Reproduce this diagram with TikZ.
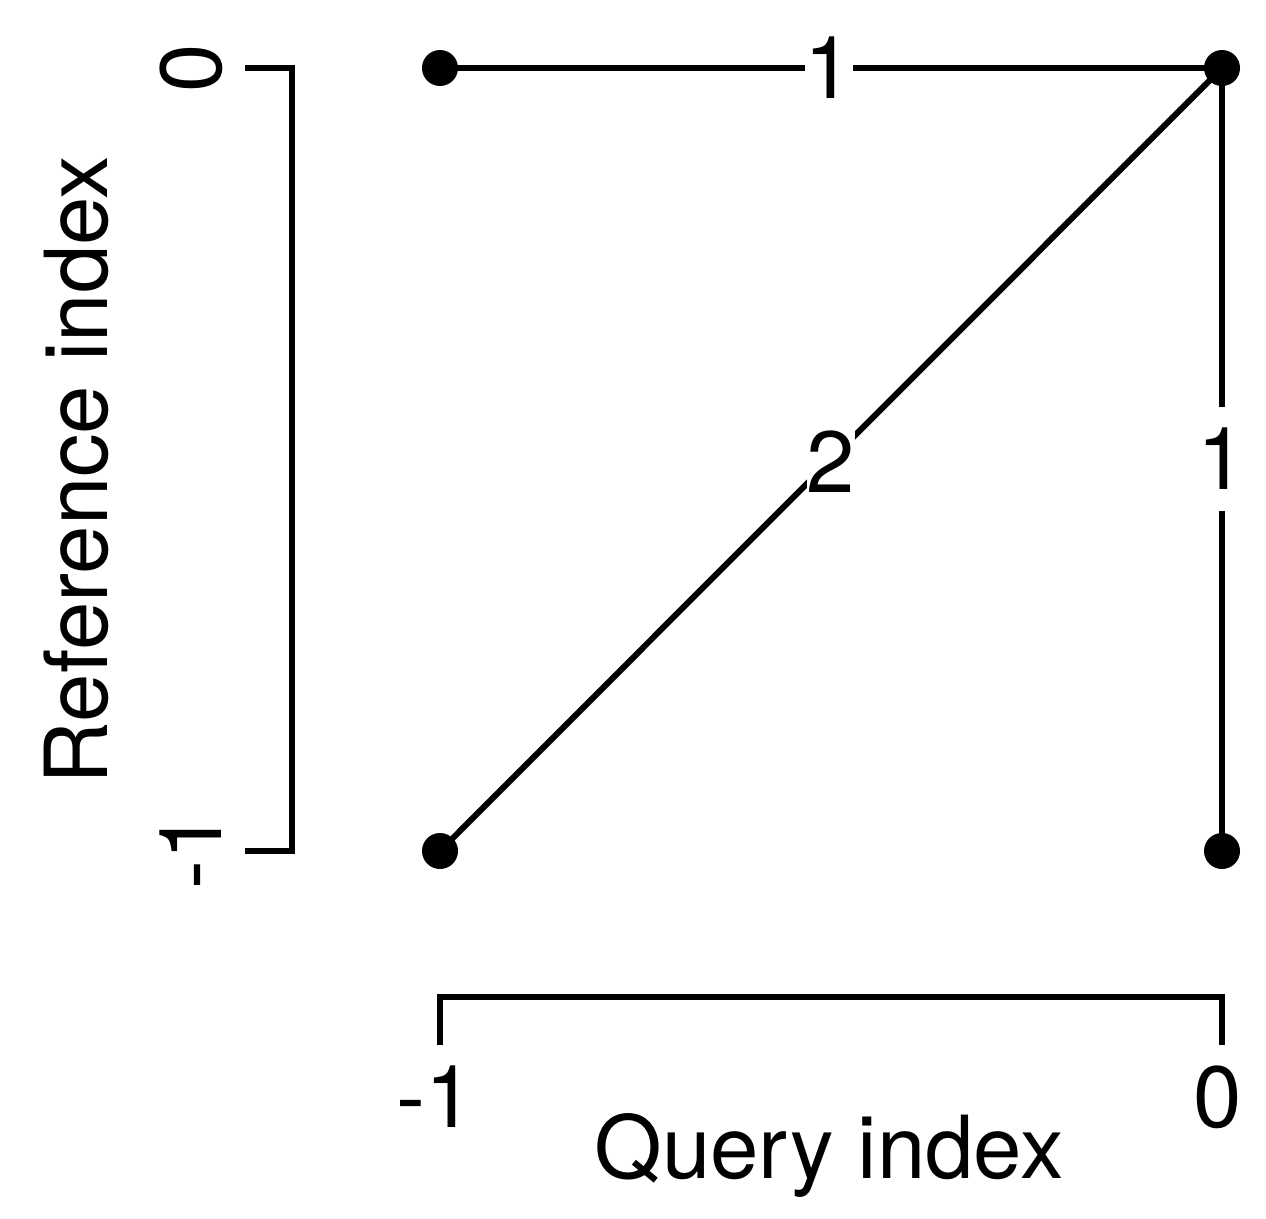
\documentclass[tikz,border=0pt]{standalone}
\usepackage{fontspec}
\setmainfont{TeX Gyre Heros}
\begin{document}
\begin{tikzpicture}[x=1pt,y=-1pt,
  ln/.style={line width=6pt},
  dot/.style={circle,fill=black,inner sep=0pt,minimum size=36pt},
  elab/.style={fill=white,inner sep=0pt,minimum height=104pt,font=\fontsize{87}{100}\selectfont},
  txt/.style={inner sep=0pt,font=\fontsize{87}{100}\selectfont}]
\useasboundingbox (0,0) rectangle (1266,1218);
\node[dot] (a) at (440,68) {};
\node[dot] (b) at (1222,68) {};
\node[dot] (c) at (440,851) {};
\node[dot] (d) at (1222,851) {};
\draw[ln] (a.center) -- (b.center) node[elab,pos=0.5,xshift=-2pt] {1};
\draw[ln] (c.center) -- (b.center) node[elab,pos=0.5,yshift=-2pt] {2};
\draw[ln] (d.center) -- (b.center) node[elab,pos=0.5,yshift=1pt] {1};
% left axis
\coordinate (l0) at (245,68);
\coordinate (l1) at (292,68);
\coordinate (l2) at (292,851);
\coordinate (l3) at (245,851);
\draw[ln,line join=miter] (l0) -- (l1) -- (l2) -- (l3);
\node[txt,rotate=90,anchor=base] (ly0) at (221,68) {0};
\node[txt,rotate=90,anchor=base] (ly1) at (221,851) {-1};
\node[txt,rotate=90,anchor=base] (ylab) at (107,470) {Reference index};
% bottom axis
\coordinate (b0) at (440,1045);
\coordinate (b1) at (440,997);
\coordinate (b2) at (1222,997);
\coordinate (b3) at (1222,1045);
\draw[ln,line join=miter] (b0) -- (b1) -- (b2) -- (b3);
\node[txt,anchor=base] (bx0) at (435,1127) {-1};
\node[txt,anchor=base] (bx1) at (1218,1127) {0};
\node[txt,anchor=base] (xlab) at (829,1178) {Query index};
\end{tikzpicture}
\end{document}
